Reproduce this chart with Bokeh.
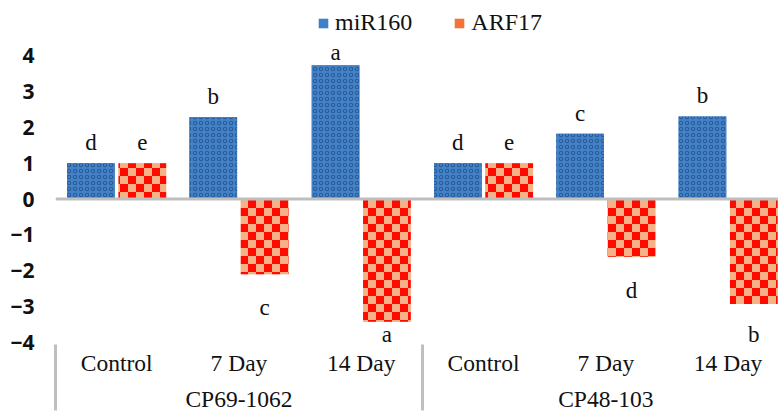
import base64
import numpy as np
from bokeh.plotting import figure
from bokeh.models import (ColumnDataSource, Range1d, FixedTicker, LinearAxis, Span,
                          Legend, LegendItem, ImageURLTexture)
from bokeh.core.properties import value
from bokeh.embed import file_html
from bokeh.resources import INLINE

# ---- data ----
groups = ["CP69-1062", "CP48-103"]
categories = ["Control", "7 Day", "14 Day", "Control", "7 Day", "14 Day"]
mir160 = [1.0, 2.28, 3.73, 1.0, 1.82, 2.3]
arf17 = [1.0, -2.1, -3.42, 1.0, -1.61, -2.93]
mir160_letters = ["d", "b", "a", "d", "c", "b"]
arf17_letters = ["e", "c", "a", "e", "d", "b"]
y_ticks = [-4, -3, -2, -1, 0, 1, 2, 3, 4]
series_names = ["miR160", "ARF17"]

# ---- textures ----
def svg_url(svg):
    return "data:image/svg+xml;base64," + base64.b64encode(svg.encode()).decode()

blue_svg = ("<svg xmlns='http://www.w3.org/2000/svg' width='6' height='6'>"
            "<rect width='6' height='6' fill='#4482c8'/>"
            "<circle cx='3' cy='3' r='1.7' fill='none' stroke='#2a5a98' stroke-width='1.1'/>"
            "</svg>")
checker_svg = ("<svg xmlns='http://www.w3.org/2000/svg' width='16' height='16'>"
               "<rect width='16' height='16' fill='#f6b286'/>"
               "<rect x='0' y='0' width='8' height='8' fill='#ff0a00'/>"
               "<rect x='8' y='8' width='8' height='8' fill='#ff0a00'/>"
               "</svg>")

n = len(categories)
xc = np.arange(n) + 0.5
group_centers = np.arange(len(groups)) * 3 + 1.5
separators = np.arange(len(groups)) * 3.0
off = 0.21
bw = 0.39

mir = np.array(mir160)
arf = np.array(arf17)

def label_y(v):
    return np.where(v >= 0, np.minimum(v + 0.38, 3.88), np.maximum(v - 1.13, -3.98))

src = ColumnDataSource(dict(
    x_mir=xc - off, x_arf=xc + off,
    mir=mir, arf=arf,
    mir_ly=label_y(mir), arf_ly=label_y(arf),
    mir_lab=mir160_letters, arf_lab=arf17_letters,
))

p = figure(width=778, height=414, output_backend="svg", toolbar_location=None,
           x_range=Range1d(0, 5.912), y_range=Range1d(-4, 5.534),
           x_axis_type=None, y_axis_type=None,
           min_border_left=55, min_border_right=0, min_border_top=0, min_border_bottom=60)
p.outline_line_color = None
p.background_fill_color = "white"

p.vbar(x="x_mir", top="mir", bottom=0, width=bw, source=src,
       fill_color="#4482c8", line_color=None,
       hatch_pattern=value("bluemesh"),
       hatch_extra={"bluemesh": ImageURLTexture(url=svg_url(blue_svg))})
p.vbar(x="x_arf", top="arf", bottom=0, width=bw, source=src,
       fill_color="#f6b286", line_color=None,
       hatch_pattern=value("checker"),
       hatch_extra={"checker": ImageURLTexture(url=svg_url(checker_svg))})

p.add_layout(Span(location=0, dimension="width", line_color="#bfbfbf", line_width=3))

for xcol, ycol, tcol in [("x_mir", "mir_ly", "mir_lab"), ("x_arf", "arf_ly", "arf_lab")]:
    p.text(x=xcol, y=ycol, text=tcol, source=src, text_align="center",
           text_baseline="alphabetic", y_offset=-7, text_font=value("Liberation Serif"),
           text_font_size="23px", text_color="#111111")

# y axis
yax = LinearAxis(ticker=FixedTicker(ticks=y_ticks))
yax.axis_line_color = None
yax.major_tick_line_color = None
yax.minor_tick_line_color = None
yax.major_tick_out = 0
yax.major_label_standoff = 21
yax.major_label_text_font = "Open Sans"
yax.major_label_text_font_style = "bold"
yax.major_label_text_font_size = "21px"
yax.major_label_text_color = "#111111"
p.add_layout(yax, "left")

# category axis
cax = LinearAxis(ticker=FixedTicker(ticks=list(xc), minor_ticks=[]),
                 major_label_overrides={float(x): c for x, c in zip(xc, categories)})
cax.axis_line_color = None
cax.major_tick_line_color = None
cax.minor_tick_line_color = None
cax.major_tick_out = 0
cax.major_tick_in = 0
cax.minor_tick_out = 0
cax.minor_tick_in = 0
cax.major_label_standoff = 7
cax.major_label_text_line_height = 1.0
cax.major_label_text_font = "Liberation Serif"
cax.major_label_text_font_size = "23.5px"
cax.major_label_text_font_style = "normal"
cax.major_label_text_color = "#111111"
p.add_layout(cax, "below")

# group axis; its minor ticks are the group separators
gax = LinearAxis(ticker=FixedTicker(ticks=list(group_centers), minor_ticks=list(separators)),
                 major_label_overrides={float(x): g for x, g in zip(group_centers, groups)})
gax.axis_line_color = None
gax.major_tick_line_color = None
gax.major_tick_out = 0
gax.major_tick_in = 0
gax.minor_tick_line_color = "#bfbfbf"
gax.minor_tick_line_width = 3
gax.minor_tick_in = 34
gax.minor_tick_out = 32
gax.major_label_standoff = -25
gax.major_label_text_line_height = 1.0
gax.major_label_text_font = "Liberation Serif"
gax.major_label_text_font_size = "23.5px"
gax.major_label_text_font_style = "normal"
gax.major_label_text_color = "#111111"
p.add_layout(gax, "below")

# legend swatches (renderers that draw nothing in the plot)
blank = ColumnDataSource(dict(x=[np.nan], top=[np.nan]))
r1 = p.vbar(x="x", top="top", width=0.1, source=blank, fill_color="#3f80c8", line_color=None)
r2 = p.vbar(x="x", top="top", width=0.1, source=blank, fill_color="#f47438", line_color=None)
legend = Legend(items=[LegendItem(label=series_names[0], renderers=[r1], index=0),
                       LegendItem(label=series_names[1], renderers=[r2], index=0)],
                orientation="horizontal", location=(262, 306),
                glyph_width=12, glyph_height=12, label_standoff=6, spacing=41,
                padding=0, margin=0, border_line_color=None, background_fill_alpha=0,
                label_text_font="Liberation Serif", label_text_font_size="24px",
                label_text_color="#111111")
p.add_layout(legend)

open("out.html", "w").write(file_html(p, INLINE))
